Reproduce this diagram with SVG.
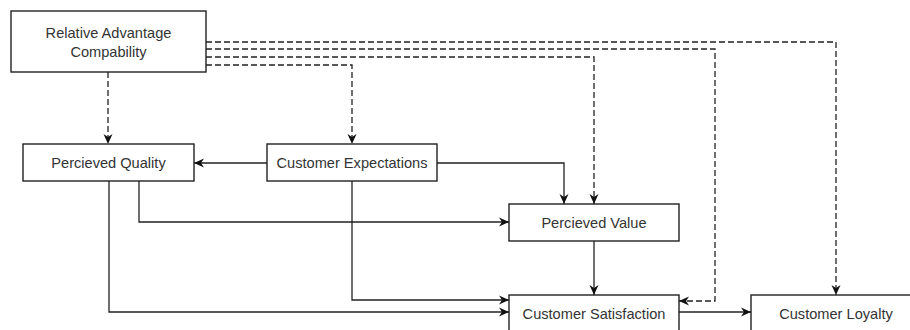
<svg xmlns="http://www.w3.org/2000/svg" width="910" height="330" viewBox="0 0 910 330">
<defs>
<marker id="arr" markerUnits="userSpaceOnUse" markerWidth="12" markerHeight="10" refX="10" refY="4.5" orient="auto" overflow="visible">
<path d="M0,0 L10,4.5 L0,9 L3,4.5 Z" fill="#111"/>
</marker>
<style>
.box{fill:#fff;stroke:#222;stroke-width:1.4}
.lbl{font-family:"Liberation Sans",Arial,sans-serif;font-size:14.6px;fill:#333;text-anchor:middle}
.e{fill:none;stroke:#222;stroke-width:1.3;marker-end:url(#arr)}
.d{stroke-dasharray:6 3}
</style>
</defs>
<rect width="910" height="330" fill="#fff"/>
<g id="connectors">
<path class="e d" d="M108,72 V144"/>
<path class="e d" d="M206,42 H836 V295"/>
<path class="e d" d="M206,49 H715 V301 H679"/>
<path class="e d" d="M206,57 H594 V204"/>
<path class="e d" d="M206,65 H352 V144"/>
<path class="e" d="M267,163 H194"/>
<path class="e" d="M437,163 H564 V204"/>
<path class="e" d="M139,181 V222 H509"/>
<path class="e" d="M109,181 V312 H509"/>
<path class="e" d="M352,181 V300 H509"/>
<path class="e" d="M594,241 V295"/>
<path class="e" d="M679,312 H751"/>
</g>
<g id="ra">
<rect class="box" x="11" y="11" width="195" height="61"/>
<text class="lbl" x="108.5" y="38">Relative Advantage</text>
<text class="lbl" x="108.5" y="57">Compability</text>
</g>
<g id="pq">
<rect class="box" x="23" y="144" width="171" height="37"/>
<text class="lbl" x="108.5" y="167.5">Percieved Quality</text>
</g>
<g id="ce">
<rect class="box" x="267" y="144" width="170" height="37"/>
<text class="lbl" x="352" y="167.5">Customer Expectations</text>
</g>
<g id="pv">
<rect class="box" x="509" y="204" width="170" height="37"/>
<text class="lbl" x="594" y="227.5">Percieved Value</text>
</g>
<g id="cs">
<rect class="box" x="509" y="295" width="170" height="37"/>
<text class="lbl" x="594" y="318.5">Customer Satisfaction</text>
</g>
<g id="cl">
<rect class="box" x="751" y="295" width="170" height="37"/>
<text class="lbl" x="836" y="318.5">Customer Loyalty</text>
</g>
</svg>
